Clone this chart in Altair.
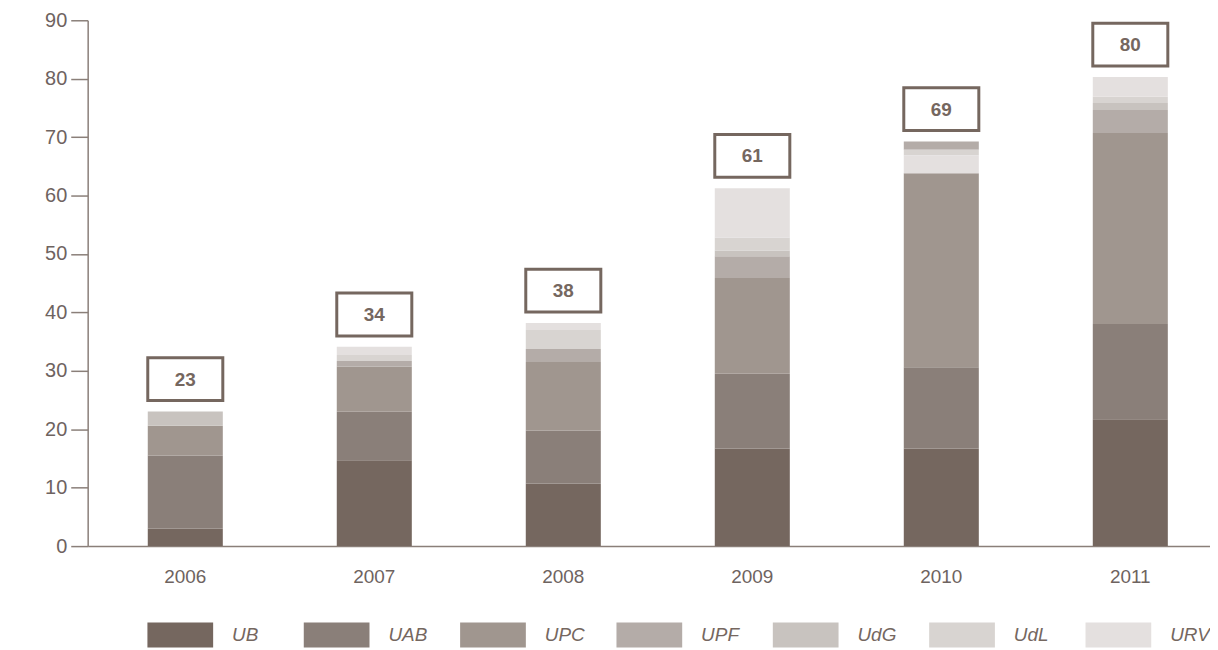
import altair as alt
import pandas as pd

years = ["2006", "2007", "2008", "2009", "2010", "2011"]
series = ["UB", "UAB", "UPC", "UPF", "UdG", "UdL", "URV"]
UB = [3.0, 14.7, 10.7, 16.7, 16.7, 21.7]
UAB = [12.5, 8.3, 9.1, 12.8, 13.9, 16.3]
UPC = [5.1, 7.7, 11.7, 16.4, 33.2, 32.7]
UPF = [0.0, 1.0, 2.25, 3.7, 1.4, 3.95]
UdG = [2.45, 0.0, 0.0, 1.0, 0.0, 1.2]
UdL = [0.0, 1.0, 3.25, 2.2, 1.0, 1.05]
URV = [0.0, 1.4, 1.2, 8.45, 3.05, 3.4]
labels = [23, 34, 38, 61, 69, 80]
colors = ["#75675f", "#8a7f79", "#a0968f", "#b4aca8", "#c8c3bf", "#d8d4d1", "#e4e0df"]
stack_2010 = ["UB", "UAB", "UPC", "URV", "UdL", "UdG", "UPF"]

values = {"UB": UB, "UAB": UAB, "UPC": UPC, "UPF": UPF, "UdG": UdG, "UdL": UdL, "URV": URV}

rows = []
for i, y in enumerate(years):
    order = stack_2010 if y == "2010" else series
    for s in series:
        rows.append({"year": y, "series": s, "value": values[s][i], "rank": order.index(s)})
df = pd.DataFrame(rows)
tot = pd.DataFrame({
    "year": years,
    "total": [sum(values[s][i] for s in series) for i in range(len(years))],
    "label": labels,
})

FONT = "Liberation Sans, Arial, Helvetica"
BROWN = "#75675f"
AXIS = "#8a7f79"
LABEL = "#6e6360"

xenc = alt.X(
    "year:N",
    scale=alt.Scale(range=[0, 1145], paddingInner=0.603, paddingOuter=0.318),
    axis=alt.Axis(title=None, labelAngle=0, ticks=False, labelPadding=22,
                  domainColor=AXIS, domainWidth=1.5, labelFontSize=19,
                  labelColor=LABEL, labelFont=FONT),
)

bars = alt.Chart(df).mark_bar().encode(
    x=xenc,
    y=alt.Y("value:Q", stack="zero",
            scale=alt.Scale(domain=[0, 90]),
            axis=alt.Axis(title=None, values=list(range(0, 91, 10)), tickSize=17,
                          tickColor=AXIS, tickWidth=1.5, domainColor=AXIS, domainWidth=1.5,
                          grid=False, labelFontSize=20, labelColor=LABEL,
                          labelFont=FONT, labelPadding=4)),
    color=alt.Color("series:N",
                    scale=alt.Scale(domain=series, range=colors),
                    legend=alt.Legend(
                        title=None, orient="none", legendX=60, legendY=584,
                        direction="horizontal", columns=7, gridAlign="all",
                        columnPadding=31,
                        symbolType="M-1,-0.38H1V0.38H-1Z", symbolSize=4356,
                        symbolStrokeWidth=0, symbolOpacity=1,
                        labelFontSize=19, labelFontStyle="italic", labelColor=BROWN,
                        labelFont=FONT, labelOffset=19)),
    order=alt.Order("rank:Q"),
)

boxes = alt.Chart(tot).mark_rect(
    fill="white", stroke=BROWN, strokeWidth=3, yOffset=-11, y2Offset=-54
).encode(
    x=alt.X("year:N"),
    y=alt.Y("total:Q"),
    y2="total:Q",
)

texts = alt.Chart(tot).mark_text(
    dy=-32, fontSize=19, fontWeight="bold", color=BROWN, font=FONT
).encode(
    x=alt.X("year:N"),
    y=alt.Y("total:Q"),
    text="label:N",
)

chart = alt.layer(bars, boxes, texts).properties(
    width=1127, height=528,
    autosize=alt.AutoSizeParams(type="none"),
    padding={"left": 80, "top": 11, "right": 0, "bottom": 101},
).configure_view(stroke=None)

chart.save("out.html", embed_options={"renderer": "svg", "actions": False})
